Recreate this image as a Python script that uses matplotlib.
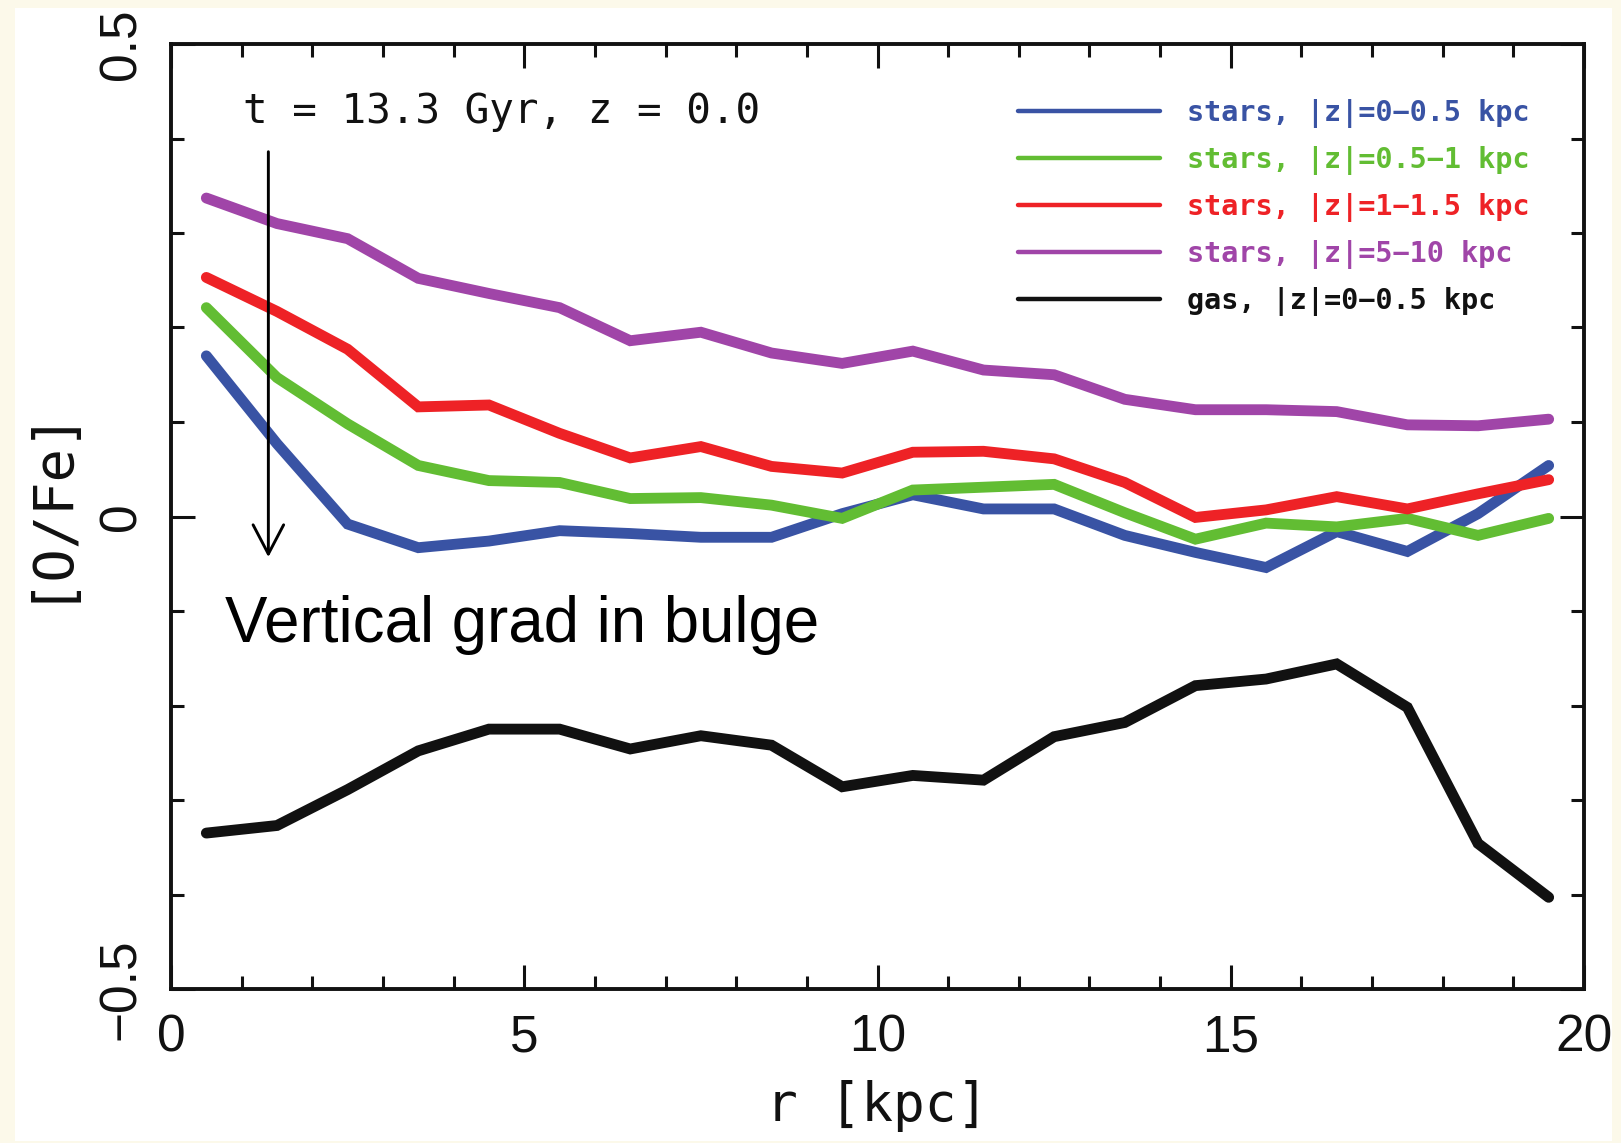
import matplotlib
matplotlib.use("Agg")
import matplotlib.pyplot as plt
from matplotlib.patches import Rectangle
from matplotlib.ticker import MultipleLocator, FixedLocator

r = [0.5, 1.5, 2.5, 3.5, 4.5, 5.5, 6.5, 7.5, 8.5, 9.5,
     10.5, 11.5, 12.5, 13.5, 14.5, 15.5, 16.5, 17.5, 18.5, 19.5]

stars_0_05 = [0.170, 0.077, -0.008, -0.033, -0.026, -0.015, -0.018, -0.022, -0.022, 0.003,
              0.023, 0.008, 0.008, -0.020, -0.038, -0.054, -0.016, -0.037, 0.003, 0.054]
stars_05_1 = [0.221, 0.147, 0.098, 0.054, 0.038, 0.036, 0.019, 0.020, 0.012, -0.002,
              0.028, 0.031, 0.034, 0.004, -0.024, -0.007, -0.011, -0.002, -0.020, -0.002]
stars_1_15 = [0.253, 0.217, 0.177, 0.116, 0.118, 0.088, 0.062, 0.074, 0.053, 0.046,
              0.068, 0.069, 0.061, 0.036, -0.001, 0.007, 0.021, 0.008, 0.024, 0.039]
stars_5_10 = [0.337, 0.310, 0.294, 0.252, 0.236, 0.221, 0.186, 0.195, 0.173, 0.162,
              0.175, 0.155, 0.150, 0.124, 0.113, 0.113, 0.111, 0.097, 0.096, 0.103]
gas_0_05 = [-0.335, -0.327, -0.289, -0.248, -0.225, -0.225, -0.246, -0.232, -0.242, -0.286,
            -0.274, -0.279, -0.233, -0.218, -0.179, -0.172, -0.156, -0.202, -0.346, -0.403]

series = [
    (stars_0_05, "stars, |z|=0\u22120.5 kpc", "#3953A4"),
    (stars_05_1, "stars, |z|=0.5\u22121 kpc", "#62BD33"),
    (stars_1_15, "stars, |z|=1\u22121.5 kpc", "#EE2226"),
    (stars_5_10, "stars, |z|=5\u221210 kpc", "#A045A8"),
    (gas_0_05, "gas, |z|=0\u22120.5 kpc", "#111111"),
]

x_ticks = [0, 5, 10, 15, 20]
x_ticklabels = ["0", "5", "10", "15", "20"]
y_ticks = [-0.5, 0, 0.5]
y_ticklabels = ["\u22120.5", "0", "0.5"]

W, H = 1621, 1143
fig = plt.figure(figsize=(W / 100, H / 100), dpi=100)
fig.patch.set_facecolor("#FCF9EA")
fig.patches.append(Rectangle((15 / W, 1 - 1141 / H), (1612 - 15) / W, (1141 - 8) / H,
                             transform=fig.transFigure, facecolor="white",
                             edgecolor="none", zorder=-10))

ax = fig.add_axes([171 / W, 1 - 989 / H, (1584 - 171) / W, (989 - 44) / H])
ax.set_facecolor("white")

for ys, lab, col in series:
    ax.plot(r, ys, color=col, lw=7.8, label=lab, solid_capstyle="round",
            solid_joinstyle="miter")

ax.set_xlim(0, 20)
ax.set_ylim(-0.5, 0.5)

ax.xaxis.set_major_locator(FixedLocator(x_ticks))
ax.xaxis.set_minor_locator(MultipleLocator(1))
ax.yaxis.set_major_locator(FixedLocator(y_ticks))
ax.yaxis.set_minor_locator(MultipleLocator(0.1))
ax.set_xticklabels(x_ticklabels)
ax.set_yticklabels(y_ticklabels, rotation=90, va="center")

tick_font = "Liberation Sans"
ax.tick_params(which="both", direction="in", top=True, right=True, width=2.2,
               color="#111111")
ax.tick_params(which="major", length=17)
ax.tick_params(which="minor", length=9.5)
ax.tick_params(axis="x", which="major", pad=18, labelsize=37)
ax.tick_params(axis="y", which="major", pad=18, labelsize=37)
for t in ax.get_xticklabels() + ax.get_yticklabels():
    t.set_fontfamily(tick_font)
    t.set_color("#111111")

for s in ax.spines.values():
    s.set_linewidth(2.8)
    s.set_color("#111111")

label_font = "DejaVu Sans Mono"
ax.set_xlabel("r [kpc]", fontsize=38, family=label_font, color="#111111")
ax.set_ylabel("[O/Fe]", fontsize=40, family=label_font, color="#111111")
ax.xaxis.set_label_coords(0.5, -(1106 - 989) / 945)
ax.xaxis.label.set_va("center")
ax.yaxis.set_label_coords(-(171 - 46) / 1413, 0.515)
ax.yaxis.label.set_va("center")

ax.text(1.025, 0.428, "t = 13.3 Gyr, z = 0.0", fontsize=29.5, family=label_font,
        ha="left", va="center", color="#111111")
ax.text(0.77, -0.115, "Vertical grad in bulge", fontsize=45.8, family="Liberation Sans",
        ha="left", va="center", color="black")

ax.annotate("", xy=(1.378, -0.043), xytext=(1.378, 0.386),
            arrowprops=dict(arrowstyle="->,head_length=1.05,head_width=0.55",
                            lw=2.1, color="black", mutation_scale=20,
                            shrinkA=0, shrinkB=0))

leg = ax.legend(loc="upper left", bbox_to_anchor=(1018 / W, 1 - 99 / H),
                bbox_transform=fig.transFigure, frameon=False,
                prop=dict(family=label_font, weight="bold", size=20.5),
                handlelength=5.0, handletextpad=0.95, labelspacing=0.63,
                borderpad=0, borderaxespad=0, labelcolor="linecolor")
for h in leg.get_lines():
    h.set_linewidth(3.2)

fig.savefig("out.png", dpi=100, facecolor=fig.get_facecolor())
